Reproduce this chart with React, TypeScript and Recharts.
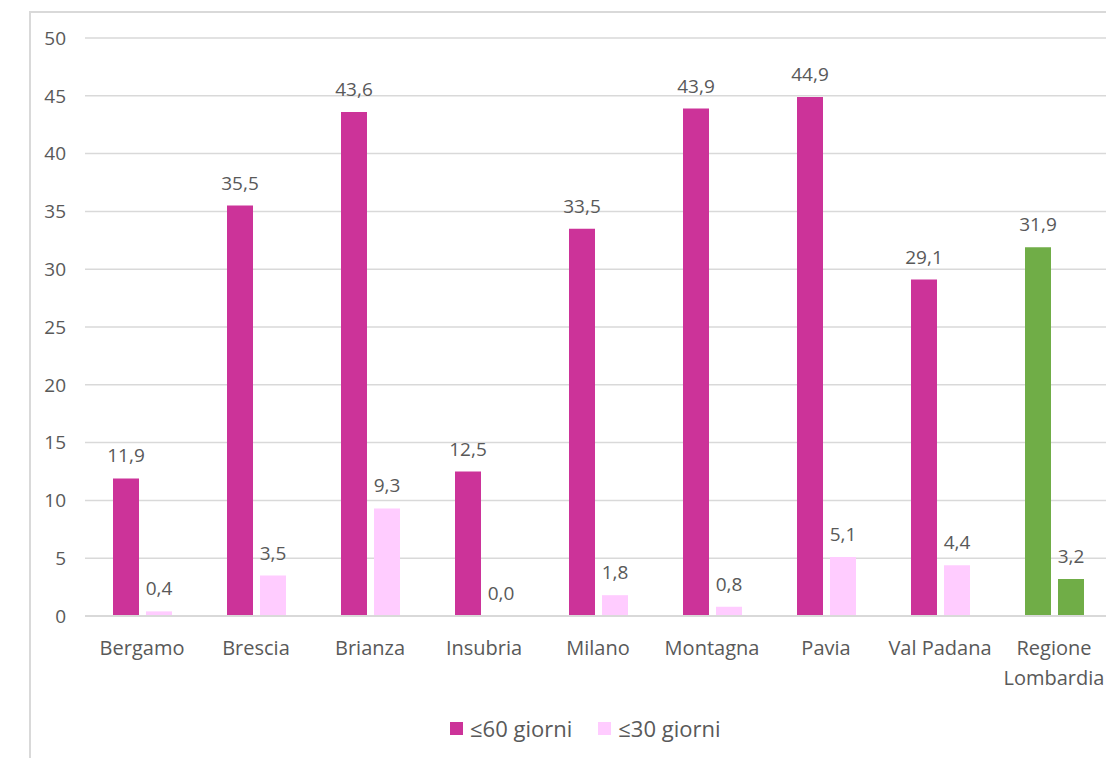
import React from 'react';
import { BarChart, Bar, XAxis, YAxis, CartesianGrid, Legend, LabelList, Cell } from 'recharts';

// Share of cases within each time window, by territory (percent)
const categories = [
  'Bergamo',
  'Brescia',
  'Brianza',
  'Insubria',
  'Milano',
  'Montagna',
  'Pavia',
  'Val Padana',
  'Regione\nLombardia',
];
const within60 = [11.9, 35.5, 43.6, 12.5, 33.5, 43.9, 44.9, 29.1, 31.9];
const within30 = [0.4, 3.5, 9.3, 0.0, 1.8, 0.8, 5.1, 4.4, 3.2];
const yTicks = [0, 5, 10, 15, 20, 25, 30, 35, 40, 45, 50];
const seriesNames = ['≤60 giorni', '≤30 giorni'];
const regionalTotal = 'Regione\nLombardia';

const COLOR_60 = '#CC3399';
const COLOR_30 = '#FFCCFF';
const COLOR_TOTAL = '#70AD47';
const TEXT = '#595959';
const GRID = '#D9D9D9';
const FONT = '"Open Sans", sans-serif';

const data = categories.map((name, i) => ({ name, d60: within60[i], d30: within30[i] }));

const fmt = (v: any) => Number(v).toFixed(1).replace('.', ',');

// keep zero-valued bars in the label layer (a hairline height, not visible)
const keepZero = (v: any) => (Number(v) === 0 ? 0.01 : 0);

const CategoryTick = (props: any) => {
  const { x, y, payload } = props;
  const lines = String(payload.value).split('\n');
  return (
    <text x={x} y={y} textAnchor="middle" fill={TEXT} fontSize={20} fontFamily={FONT}>
      {lines.map((line, i) => (
        <tspan key={i} x={x} dy={i === 0 ? '0.71em' : 30}>
          {line}
        </tspan>
      ))}
    </text>
  );
};

const LegendContent = (props: any) => {
  const items = [...(props.payload || [])].sort(
    (a: any, b: any) => seriesNames.indexOf(a.value) - seriesNames.indexOf(b.value)
  );
  return (
    <div style={{ display: 'flex', alignItems: 'center', fontFamily: FONT, fontSize: 22, color: TEXT }}>
      {items.map((entry: any, i: number) => (
        <div key={i} style={{ display: 'flex', alignItems: 'center', marginRight: 26 }}>
          <span style={{ display: 'inline-block', width: 13, height: 13, background: entry.color, marginRight: 7 }} />
          <span>{entry.value}</span>
        </div>
      ))}
    </div>
  );
};

export default function App() {
  return (
    <div
      style={{
        position: 'fixed',
        left: 0,
        top: 0,
        width: 1106,
        height: 758,
        overflow: 'hidden',
        background: '#fff',
      }}
    >
      <div
        style={{
          position: 'absolute',
          left: 29,
          top: 11,
          right: 0,
          bottom: 0,
          borderTop: `2px solid ${GRID}`,
          borderLeft: `2px solid ${GRID}`,
        }}
      />
      <div style={{ position: 'absolute', left: 0, top: 0 }}>
        <BarChart
          width={1120}
          height={758}
          data={data}
          margin={{ top: 38, right: 9, bottom: 82, left: 30 }}
          barSize={26}
          barGap={7}
        >
          <CartesianGrid vertical={false} stroke={GRID} strokeWidth={1.5} />
          <XAxis
            dataKey="name"
            interval={0}
            tickLine={false}
            tickSize={0}
            tickMargin={25}
            height={60}
            axisLine={{ stroke: GRID, strokeWidth: 2 }}
            tick={<CategoryTick />}
          />
          <YAxis
            width={55}
            domain={[0, 50]}
            ticks={yTicks}
            interval={0}
            tickLine={false}
            axisLine={false}
            tickSize={0}
            tickMargin={19}
            tick={{ fill: TEXT, fontSize: 19, fontFamily: FONT }}
          />
          <Legend
            verticalAlign="middle"
            align="center"
            layout="horizontal"
            wrapperStyle={{ top: 713, left: 450, width: 'auto' }}
            content={<LegendContent />}
          />
          <Bar dataKey="d60" name={seriesNames[0]} fill={COLOR_60} isAnimationActive={false}>
            {data.map((d, i) => (
              <Cell key={i} fill={d.name === regionalTotal ? COLOR_TOTAL : COLOR_60} />
            ))}
            <LabelList
              dataKey="d60"
              position="top"
              offset={16}
              formatter={fmt}
              fill={TEXT}
              fontSize={19}
              fontFamily={FONT}
            />
          </Bar>
          <Bar
            dataKey="d30"
            name={seriesNames[1]}
            fill={COLOR_30}
            minPointSize={keepZero}
            isAnimationActive={false}
          >
            {data.map((d, i) => (
              <Cell key={i} fill={d.name === regionalTotal ? COLOR_TOTAL : COLOR_30} />
            ))}
            <LabelList
              dataKey="d30"
              position="top"
              offset={16}
              formatter={fmt}
              fill={TEXT}
              fontSize={19}
              fontFamily={FONT}
            />
          </Bar>
        </BarChart>
      </div>
    </div>
  );
}
